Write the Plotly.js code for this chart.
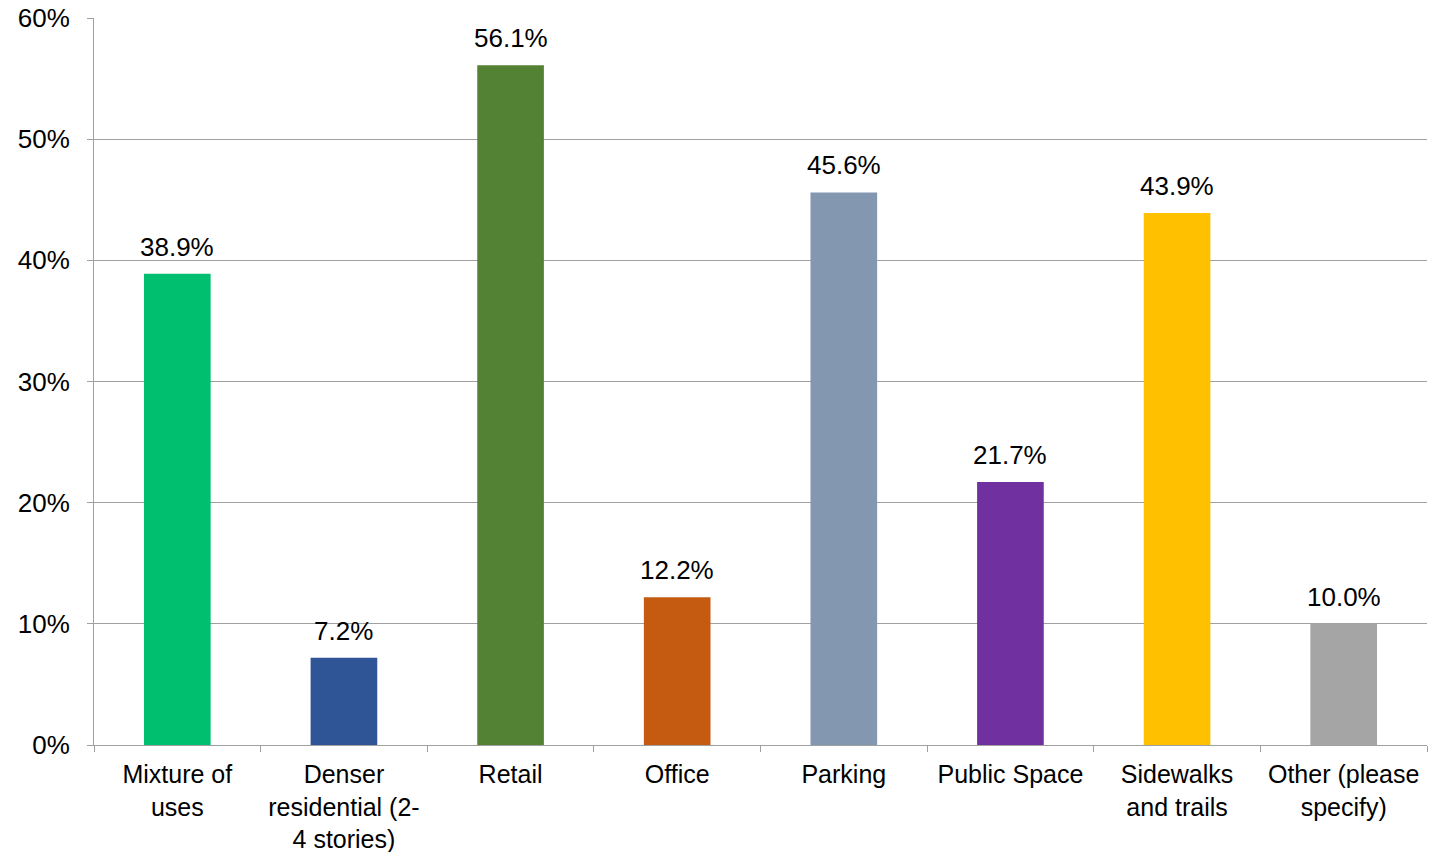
<!DOCTYPE html>
<html><head><meta charset="utf-8">
<script src="https://cdn.plot.ly/plotly-3.0.1.min.js"></script>
<style>html,body{margin:0;padding:0;background:#fff}</style>
</head><body><div id="chart" style="width:1446px;height:852px"></div>
<script>
const categories = ["Mixture of<br>uses", "Denser<br>residential (2-<br>4 stories)", "Retail", "Office", "Parking", "Public Space", "Sidewalks<br>and trails", "Other (please<br>specify)"];
const values = [38.9, 7.2, 56.1, 12.2, 45.6, 21.7, 43.9, 10.0];
const colors = ["#00BF6F", "#2F5597", "#548235", "#C55A11", "#8497B0", "#7030A0", "#FFC000", "#A5A5A5"];
const yTickVals = [0, 10, 20, 30, 40, 50, 60];
const yTickText = ["0%", "10%", "20%", "30%", "40%", "50%", "60%"];

const FONT = "Liberation Sans, Arial, sans-serif";
const annotations = categories.map((c, i) => ({
  x: c, y: values[i], xref: "x", yref: "y",
  text: values[i].toFixed(1) + "%",
  showarrow: false, yanchor: "bottom", yshift: 10,
  font: {family: FONT, size: 26, color: "#000"}
}));

Plotly.newPlot("chart", [{
  type: "bar",
  x: categories,
  y: values,
  marker: {color: colors},
  width: 0.4,
  hoverinfo: "none"
}], {
  width: 1446, height: 852,
  margin: {l: 94, r: 19, t: 18, b: 107, pad: 0},
  paper_bgcolor: "#fff", plot_bgcolor: "#fff",
  font: {family: FONT, size: 26, color: "#000"},
  showlegend: false,
  annotations: annotations,
  xaxis: {
    type: "category",
    tickson: "boundaries",
    ticks: "outside", ticklen: 6, tickcolor: "#A0A0A0", tickwidth: 1,
    showline: true, linecolor: "#A0A0A0", linewidth: 1,
    showgrid: false, zeroline: false,
    ticklabelstandoff: 7,
    tickfont: {size: 25}, automargin: false
  },
  yaxis: {
    range: [0, 60],
    tickvals: yTickVals, ticktext: yTickText,
    ticks: "outside", ticklen: 6, tickcolor: "#A0A0A0", tickwidth: 1,
    showline: true, linecolor: "#A0A0A0", linewidth: 1,
    showgrid: true, gridcolor: "#A0A0A0", gridwidth: 1,
    zeroline: false,
    ticklabelstandoff: 12,
    tickfont: {size: 26}, automargin: false
  }
}, {displayModeBar: false, staticPlot: true});
</script></body></html>
